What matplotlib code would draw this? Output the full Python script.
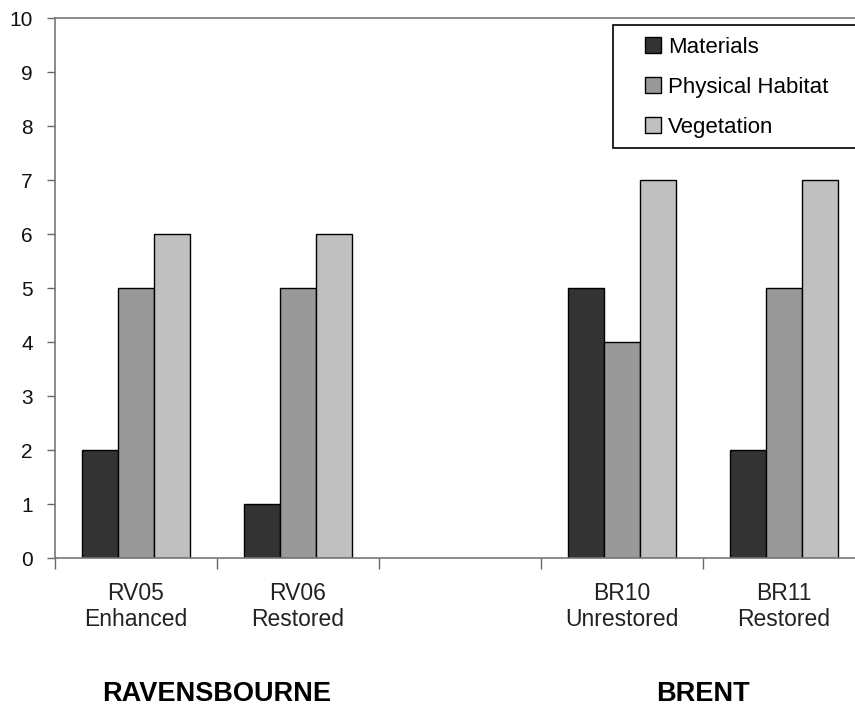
import matplotlib
matplotlib.use("Agg")
from matplotlib import pyplot as plt
from matplotlib.patches import Rectangle
import numpy as np

plt.rcParams['font.family'] = ['Liberation Sans', 'DejaVu Sans']

sites = ["RV05\nEnhanced", "RV06\nRestored", "", "BR10\nUnrestored", "BR11\nRestored"]
materials = [2, 1, 0, 5, 2]
physical = [5, 5, 0, 4, 5]
vegetation = [6, 6, 0, 7, 7]
rivers = ["RAVENSBOURNE", "BRENT"]
river_pos = [1.0, 4.0]  # slot boundaries the river names sit under

series = [("Materials", materials, "#333333"),
          ("Physical Habitat", physical, "#999999"),
          ("Vegetation", vegetation, "#c0c0c0")]

fig = plt.figure(figsize=(8.55, 7.08), dpi=100)
# plot area runs a little past the right edge, like the original
ax = fig.add_axes([55 / 855, 150 / 708, 810 / 855, 540 / 708])

x = np.arange(len(sites)) + 0.5
w = 0.224
for i, (name, vals, col) in enumerate(series):
    vals = np.array(vals, dtype=float)
    mask = np.array([s != "" for s in sites])
    ax.bar(x[mask] + (i - 1) * w, vals[mask], w, color=col,
           edgecolor="black", linewidth=1.0, label=name)

ax.set_xlim(0, len(sites))
ax.set_ylim(0, 10)
ax.set_yticks(range(0, 11))
ax.tick_params(axis="y", labelsize=15, length=6, width=1, color="#666666",
               pad=10, labelcolor="#111111")

ax.set_xticks(x)
ax.set_xticklabels(sites, fontsize=16.5, color="#222222", linespacing=1.2)
ax.tick_params(axis="x", which="major", length=0, pad=17)
ax.set_xticks(np.arange(0, len(sites) + 1), minor=True)
ax.tick_params(axis="x", which="minor", length=8, width=1, color="#666666")

for s in ["left", "bottom", "top"]:
    ax.spines[s].set_color("#777777")
    ax.spines[s].set_linewidth(1.2)
ax.spines["right"].set_visible(False)

for name, pos in zip(rivers, river_pos):
    xf = (55 + pos * 162) / 855
    fig.text(xf, 1 / 708, name, ha="center", va="bottom",
             fontsize=19.5, fontweight="bold")

# legend box drawn by hand so the padding matches
ax.add_patch(Rectangle((613 / 855, 1 - 148 / 708), 250 / 855, 123 / 708,
                       transform=fig.transFigure, facecolor="white",
                       edgecolor="black", linewidth=1.2, zorder=5,
                       clip_on=False))
leg = ax.legend(loc="upper left", bbox_to_anchor=(645 / 855, 1 - 37 / 708),
                bbox_transform=fig.transFigure, fontsize=16, frameon=False,
                handlelength=0.7, handleheight=0.7, handletextpad=0.35,
                labelspacing=0.85, borderpad=0, borderaxespad=0)
leg.set_zorder(6)

fig.savefig("out.png", dpi=100)
